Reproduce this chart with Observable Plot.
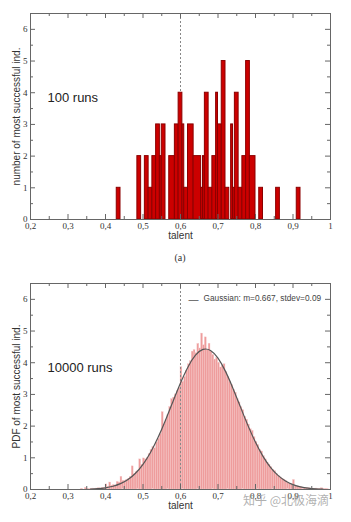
<!DOCTYPE html>
<html><head><meta charset="utf-8">
<script src="https://cdn.jsdelivr.net/npm/d3@7"></script>
<script src="https://cdn.jsdelivr.net/npm/@observablehq/plot@0.6"></script>
<style>
html,body{margin:0;padding:0;background:#fff;}
#wrap{position:relative;width:351px;height:522px;overflow:hidden;background:#fff;}
svg{display:block}
.cap{height:25px;line-height:25px;font-family:"Liberation Serif","DejaVu Serif",serif;font-size:10px;color:#333;text-align:center;padding-left:9px;box-sizing:border-box;width:351px}
.wm{position:absolute;left:243px;top:491px;font-family:"Noto Sans CJK SC",sans-serif;font-size:12px;color:rgba(150,150,150,0.75);white-space:nowrap;}
</style></head><body><div id="wrap"></div>
<script>
// ---------- shared axis data ----------
const xTicks = [0.2, 0.3, 0.4, 0.5, 0.6, 0.7, 0.8, 0.9, 1];
const xTickLabels = ["0,2", "0,3", "0,4", "0,5", "0,6", "0,7", "0,8", "0,9", "1"];
const xMinorTicks = [0.25, 0.35, 0.45, 0.55, 0.65, 0.75, 0.85, 0.95];
const yTicks = [0, 1, 2, 3, 4, 5, 6];
const yTickLabels = ["0", "1", "2", "3", "4", "5", "6"];
const yMinorTicks = [0.5, 1.5, 2.5, 3.5, 4.5, 5.5];
const referenceTalent = [0.6];
const xLabel = ["talent"];
const caption = "(a)";

// ---------- panel (a): 100 runs ----------
const topLabel = ["100 runs"];
const topYLabel = ["number of most successful ind."];
const topBinLo = [0.430,0.485,0.505,0.515,0.525,0.535,0.545,0.550,0.570,0.585,0.595,0.605,0.610,0.620,0.635,0.655,0.660,0.665,0.675,0.685,0.695,0.700,0.710,0.720,0.735,0.740,0.745,0.755,0.765,0.775,0.785,0.810,0.855,0.910];
const topBinHi = [0.440,0.495,0.515,0.525,0.535,0.545,0.550,0.560,0.585,0.595,0.605,0.610,0.620,0.635,0.655,0.660,0.665,0.675,0.685,0.695,0.700,0.710,0.720,0.730,0.740,0.745,0.755,0.765,0.775,0.785,0.800,0.820,0.865,0.920];
const topCounts = [1,2,2,1,2,3,2,3,2,3,4,3,1,3,2,1,2,4,1,2,4,3,5,1,3,1,4,1,2,5,2,1,1,1];

// ---------- panel (b): 10000 runs ----------
const bottomLabel = ["10000 runs"];
const bottomYLabel = ["PDF of most successful ind."];
const pdfBinStart = 0.330;
const pdfBinWidth = 0.005;
const pdfValues = [
 0.00,0.02,0.00,0.05,0.02,0.01,0.02,0.03,0.02,0.03,0.04,0.03,0.05,0.04,
 0.16,0.08,0.22,0.12,0.14,0.12,0.24,0.22,0.40,0.28,0.27,0.30,0.33,0.40,
 0.73,0.48,0.55,0.60,0.95,0.78,0.98,0.95,1.00,1.12,1.25,1.35,1.30,1.48,
 1.60,1.75,2.44,2.05,2.20,2.35,2.60,2.85,2.90,3.00,3.10,3.20,3.86,3.40,
 3.55,3.75,3.95,4.05,4.35,4.40,4.30,4.60,4.45,4.92,4.55,4.80,4.40,4.60,
 4.35,4.25,4.10,4.15,4.00,3.85,3.90,3.95,3.70,3.55,3.40,3.30,3.15,3.05,
 2.85,2.75,2.60,2.50,2.30,2.20,2.05,1.90,1.85,1.65,1.50,1.40,1.25,1.20,
 1.05,0.95,0.85,0.78,0.70,0.62,0.58,0.48,0.42,0.38,0.33,0.30,0.26,0.22,
 0.18,0.16,0.30,0.12,0.10,0.08,0.07,0.06,0.05,0.04,0.04,0.03,0.03,0.02,
 0.03,0.02,0.02,0.04,0.01,0.02,0.01];
const gaussLegend = ["Gaussian: m=0.667, stdev=0.09"];
const gaussX = [0.36,0.38,0.40,0.42,0.44,0.46,0.48,0.50,0.52,0.54,0.56,0.58,0.60,0.62,0.64,0.66,0.68,0.70,0.72,0.74,0.76,0.78,0.80,0.82,0.84,0.86,0.88,0.90,0.92,0.94,0.96,0.98];
const gaussY = [0.013,0.027,0.054,0.103,0.184,0.315,0.512,0.793,1.168,1.638,2.187,2.779,3.360,3.868,4.238,4.420,4.387,4.145,3.727,3.190,2.599,2.016,1.488,1.045,0.699,0.445,0.270,0.155,0.085,0.044,0.022,0.010];
const watermark = "知乎 @北极海滴";

// ---------- tables ----------
const topBars = topCounts.map((c, i) => ({lo: topBinLo[i], hi: topBinHi[i], count: c}));
const pdfBars = pdfValues.map((v, i) => ({lo: pdfBinStart + i * pdfBinWidth, hi: pdfBinStart + (i + 1) * pdfBinWidth, v}));
const gauss = gaussX.map((x, i) => ({x, y: gaussY[i]}));

// ---------- layout ----------
const W = 351, H = 245, MT = 13, MB = 26, ML = 30, MR = 21;
const innerW = W - ML - MR, innerH = H - MT - MB;
const tickColor = "#666";
const serif = "Liberation Serif, DejaVu Serif, serif";

function frameMarks(yLabel, runs) {
  return [
    Plot.ruleX(xTicks, {stroke: tickColor, insetTop: innerH - 5}),
    Plot.ruleX(xTicks, {stroke: tickColor, insetBottom: innerH - 5}),
    Plot.ruleX(xMinorTicks, {stroke: tickColor, insetTop: innerH - 3}),
    Plot.ruleX(xMinorTicks, {stroke: tickColor, insetBottom: innerH - 3}),
    Plot.ruleY(yTicks, {stroke: tickColor, insetRight: innerW - 5}),
    Plot.ruleY(yTicks, {stroke: tickColor, insetLeft: innerW - 5}),
    Plot.ruleY(yMinorTicks, {stroke: tickColor, insetRight: innerW - 3}),
    Plot.ruleY(yMinorTicks, {stroke: tickColor, insetLeft: innerW - 3}),
    Plot.frame({stroke: "#666"}),
    Plot.axisX({ticks: xTicks, tickFormat: d => xTickLabels[xTicks.indexOf(d)], tickSize: 0, tickPadding: 3, fontFamily: serif, fontSize: 9, fill: "#333", label: null}),
    Plot.axisY({ticks: yTicks, tickFormat: d => yTickLabels[yTicks.indexOf(d)], tickSize: 0, tickPadding: 3, fontFamily: serif, fontSize: 9, fill: "#333", label: null}),
    Plot.text(xLabel, {text: d => d, frameAnchor: "bottom", dy: 19, fontSize: 10, fill: "#333"}),
    Plot.text(yLabel, {text: d => d, frameAnchor: "left", textAnchor: "middle", dx: -14, rotate: -90, fontSize: 10, fill: "#333"}),
    Plot.text(runs, {text: d => d, frameAnchor: "top-left", dx: 17, dy: 79, textAnchor: "start", fontSize: 13, fill: "#222"})
  ];
}

const common = {
  width: W, height: H, marginTop: MT, marginBottom: MB, marginLeft: ML, marginRight: MR,
  x: {domain: [0.2, 1]},
  y: {domain: [0, 6.5]},
  style: {fontFamily: "Liberation Sans, Arial, sans-serif", fontSize: "10px", color: "#333", background: "white"}
};

const topPlot = Plot.plot({
  ...common,
  marks: [
    Plot.ruleX(referenceTalent, {stroke: "#888", strokeDasharray: "2,2"}),
    Plot.rectY(topBars, {x1: "lo", x2: "hi", y: "count", fill: "#cc0000", stroke: "#8b0000", strokeWidth: 1}),
    ...frameMarks(topYLabel, topLabel)
  ]
});

const bottomPlot = Plot.plot({
  ...common,
  marks: [
    Plot.rectY(pdfBars, {x1: "lo", x2: "hi", y: "v", fill: "#ee9c9c", stroke: "#f6c9c9", strokeWidth: 0.35}),
    Plot.ruleX(referenceTalent, {stroke: "#888", strokeDasharray: "2,2"}),
    Plot.line(gauss, {x: "x", y: "y", curve: "natural", stroke: "#555", strokeWidth: 1.2}),
    Plot.text(["—"], {text: d => d, frameAnchor: "top-left", dx: 158, dy: 12, textAnchor: "start", fontSize: 10, fill: "#555"}),
    Plot.text(gaussLegend, {text: d => d, frameAnchor: "top-left", dx: 173, dy: 12, textAnchor: "start", fontSize: 8.3, fill: "#444"}),
    ...frameMarks(bottomYLabel, bottomLabel)
  ]
});

const wrap = document.getElementById("wrap");
wrap.appendChild(topPlot);
const cap = document.createElement("div");
cap.className = "cap";
cap.textContent = caption;
wrap.appendChild(cap);
wrap.appendChild(bottomPlot);
const wm = document.createElement("div");
wm.className = "wm";
wm.textContent = watermark;
wrap.appendChild(wm);
</script></body></html>
